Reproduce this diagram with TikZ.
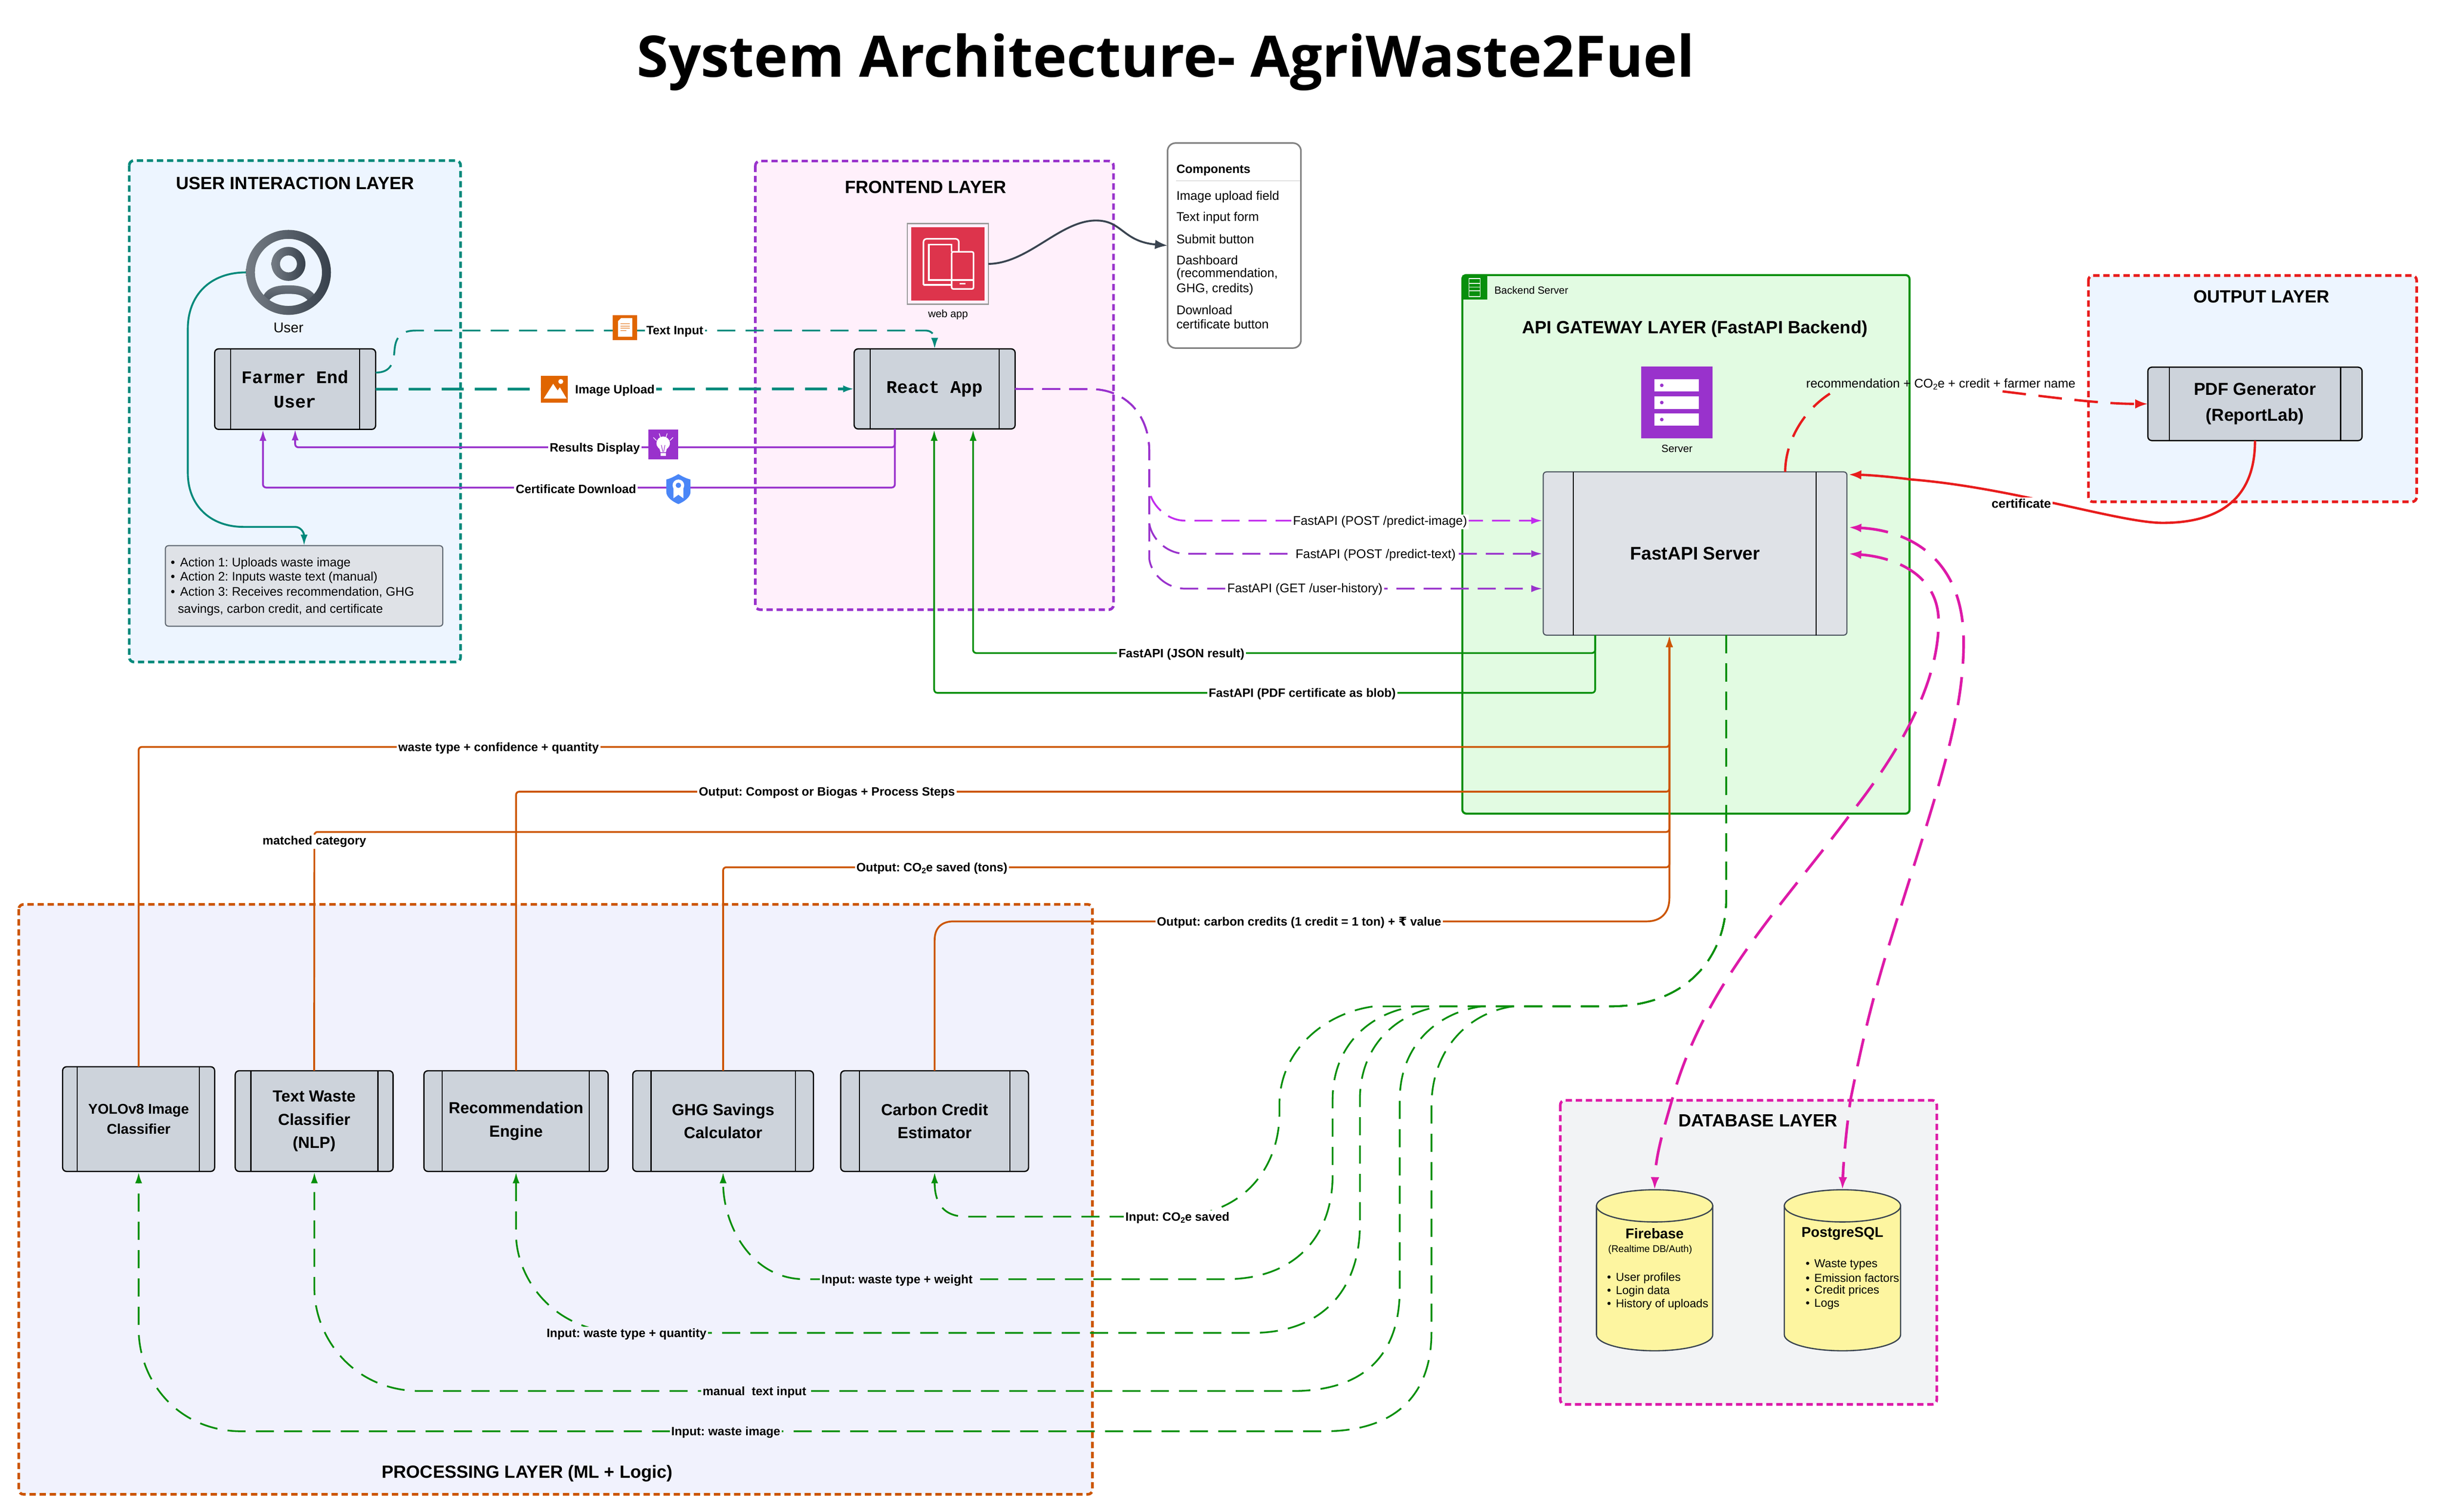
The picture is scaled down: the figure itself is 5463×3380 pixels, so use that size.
\documentclass[tikz,border=0pt]{standalone}
\usepackage{fontspec}
\setmainfont{Liberation Sans}
\setmonofont{Liberation Mono}
\newfontfamily\titlefont{Open Sans}
\newfontfamily\rupeefont{DejaVu Sans}
\usetikzlibrary{arrows.meta}
\AtBeginDocument{\frenchspacing}
\newcommand\myfs[2]{\fontsize{#1}{#2}\selectfont}
\newcommand\subtwo{\raisebox{-0.3ex}{\scalebox{.65}{2}}}
\definecolor{cteal}{HTML}{00897B}
\definecolor{cpurple}{HTML}{9932CC}
\definecolor{cbright}{HTML}{C22CEE}
\definecolor{corange}{HTML}{CC5500}
\definecolor{cgreen}{HTML}{088F0C}
\definecolor{cmag}{HTML}{DD1AA8}
\definecolor{cred}{HTML}{E81C1C}
\definecolor{cdark}{HTML}{3A4450}
\definecolor{fuser}{HTML}{EDF5FF}
\definecolor{ffront}{HTML}{FFF0FB}
\definecolor{fproc}{HTML}{F1F2FD}
\definecolor{fdb}{HTML}{F2F3F5}
\definecolor{fapi}{HTML}{E2FBE2}
\definecolor{fbox}{HTML}{CDD3DB}
\definecolor{fbox2}{HTML}{DFE2E7}
\definecolor{fcyl}{HTML}{FDF5A0}
\definecolor{cicon}{HTML}{E06500}
\definecolor{cweb}{HTML}{DD344C}
\definecolor{cshield}{HTML}{4A86F7}
\tikzset{
 layer/.style={draw=#1,line width=1.7pt,dash pattern=on 4pt off 2.4pt,rounded corners=3pt},
 layertitle/.style={font=\bfseries\myfs{11.25}{13},inner sep=0pt},
 sidebx/.style={draw=black,line width=.8pt,fill=fbox,rounded corners=2.5pt,inner sep=0pt,outer sep=0pt,align=center},
 sidelight/.style={draw=cdark!90,line width=.7pt,fill=fbox2,rounded corners=2pt,inner sep=0pt,outer sep=0pt,align=center},
 monotext/.style={font=\ttfamily\bfseries\myfs{11.3}{15.7}},
 bold108/.style={font=\bfseries\myfs{10.2}{14.8}},
 lbl/.style={font=\bfseries\myfs{7.7}{9},inner sep=1pt,fill=white,yshift=-.8pt},
 lblr/.style={font=\myfs{8}{10},inner sep=1pt,fill=white,yshift=-.8pt},
 small/.style={font=\myfs{6.7}{8},inner sep=0pt},
 txtl/.style={font=\myfs{8}{10},inner sep=0pt,anchor=west,yshift=-.6pt},
 dbtxt/.style={font=\myfs{7.35}{9},inner sep=0pt,anchor=west,yshift=-.6pt},
 tips/.style={-{Latex[length=7pt,width=4.5pt]}},
 conteal/.style={draw=cteal,line width=1.15pt,tips},
 conpurple/.style={draw=cpurple,line width=1.15pt,tips},
 congreen/.style={draw=cgreen,line width=1.1pt,tips},
 conorange/.style={draw=corange,line width=1.15pt,tips,rounded corners=2pt},
 dashg/.style={dash pattern=on 11.5pt off 6.5pt},
 dashm/.style={dash pattern=on 18pt off 8.5pt},
 dashp/.style={dash pattern=on 11.5pt off 5.7pt},
 cyl/.style={draw=cdark,line width=.8pt,fill=fcyl},
 conmag/.style={draw=cmag,line width=1.7pt,dashm,{Latex[length=8pt,width=5.5pt]}-{Latex[length=8pt,width=5.5pt]}},
}
% style, name, x1,y1,x2,y2, inner1, inner2 ... text
\newcommand\sidebox[9]{%
 \node[#1,minimum width={(#5-#3)*0.01cm},minimum height={(#6-#4)*0.01cm}] (#2) at ({(#3+#5)/2},{(#4+#6)/2}) {#9};
 \draw[line width=.7pt] (#7,#4) -- (#7,#6) (#8,#4) -- (#8,#6);
}
\begin{document}
\begin{tikzpicture}[x=0.01cm,y=-0.01cm]
\useasboundingbox (0,0) rectangle (5463,3380);
\fill[white] (0,0) rectangle (5463,3380);
\node[font=\titlefont\bfseries\myfs{36.4}{42},inner sep=0pt,anchor=base] (title) at (2607,172) {System Architecture- AgriWaste2Fuel};

% --- layers
\draw[layer=cteal,fill=fuser] (289,359) rectangle (1030,1480);
\draw[layer=cpurple,fill=ffront] (1689,360) rectangle (2490,1363);
\draw[draw=cgreen,line width=1.3pt,fill=fapi,rounded corners=2.5pt] (3270,615) rectangle (4270,1819);
\draw[layer=cred,fill=fuser] (4670,616) rectangle (5404,1122);
\draw[layer=corange,fill=fproc] (42,2022) rectangle (2443,3341);
\draw[layer=cmag,fill=fdb] (3489,2460) rectangle (4331,3140);

\node[layertitle] (t1) at (660,410) {USER INTERACTION LAYER};
\node[layertitle] (t2) at (2070,419) {FRONTEND LAYER};
\node[layertitle] (t3) at (3790,735) {API GATEWAY LAYER (FastAPI Backend)};
\node[layertitle] (t4) at (5057,663) {OUTPUT LAYER};
\node[layertitle] (t5) at (1179,3294) {PROCESSING LAYER (ML + Logic)};
\node[layertitle] (t6) at (3931,2505) {DATABASE LAYER};

% --- user icon
\node[circle,minimum size=1.9cm,inner sep=0pt,outer sep=0pt] (usericon) at (645,609) {};
\begin{scope}
\clip (645,609) circle [radius=90];
\shade[top color=cdark!75!white,bottom color=cdark] (587,665) .. controls (595,645) and (615,638) .. (640,638) -- (650,638) .. controls (680,638) and (700,650) .. (707,665) -- (690,695) -- (600,695) -- cycle;
\fill[fuser] (600,674) .. controls (610,660) and (625,657) .. (645,657) .. controls (665,657) and (680,660) .. (690,674) .. controls (675,684) and (660,688) .. (645,688) .. controls (630,688) and (615,684) .. (600,674) -- cycle;
\end{scope}
\shade[even odd rule,left color=cdark!70!white,right color=cdark!95!black] (645,609) circle [radius=95] (645,609) circle [radius=75];
\shade[even odd rule,left color=cdark!70!white,right color=cdark!95!black] (645,590) circle [radius=38] (645,590) circle [radius=19];
\node[font=\myfs{9}{11},inner sep=0pt] (userlbl) at (645,733) {User};

% --- boxes
\sidebox{sidebx,monotext}{farmer}{480}{780}{840}{960}{516}{804}{Farmer End\\User}
\sidebox{sidebx,monotext}{react}{1910}{780}{2270}{959}{1946}{2234}{React App}
\sidebox{sidelight,font=\bfseries\myfs{11.6}{14}}{fastapi}{3451}{1055}{4130}{1420}{3518}{4061}{FastAPI Server}
\sidebox{sidebx,font=\bfseries\myfs{11}{16.5}}{pdfgen}{4803}{821}{5282}{985}{4851}{5234}{PDF Generator\\(ReportLab)}
\sidebox{sidebx,font=\bfseries\myfs{9}{12.5}}{yolo}{140}{2385}{480}{2619}{173}{446}{YOLOv8 Image\\Classifier}
\sidebox{sidebx,bold108}{textw}{526}{2394}{879}{2619}{561}{845}{Text Waste\\Classifier\\(NLP)}
\sidebox{sidebx,bold108}{recom}{948}{2394}{1360}{2619}{989}{1318}{Recommendation\\Engine}
\sidebox{sidebx,bold108}{ghg}{1415}{2394}{1819}{2619}{1456}{1779}{GHG Savings\\Calculator}
\sidebox{sidebx,bold108}{carbon}{1880}{2394}{2300}{2619}{1922}{2258}{Carbon Credit\\Estimator}

% --- action box
\node[draw=cdark!80,line width=.7pt,fill=fbox2,rounded corners=2pt,minimum width=6.2cm,minimum height=1.8cm,inner sep=0pt,outer sep=0pt] (actions) at (680,1310) {};
\node[txtl,font=\myfs{7.9}{10}] (a1) at (381,1257) {•\hspace{3.2pt}Action 1: Uploads waste image};
\node[txtl,font=\myfs{7.9}{10}] (a2) at (381,1289) {•\hspace{3.2pt}Action 2: Inputs waste text (manual)};
\node[txtl,font=\myfs{7.9}{10}] (a3) at (381,1322) {•\hspace{3.2pt}Action 3: Receives recommendation, GHG};
\node[txtl,font=\myfs{7.9}{10}] (a4) at (397,1361) {savings, carbon credit, and certificate};

% --- web app icon
\node[draw=gray!80,line width=.7pt,fill=ffront,minimum width=1.81cm,minimum height=1.8cm,inner sep=0pt,outer sep=0pt] (webapp) at (2119.5,590) {};
\fill[cweb] (2038,508) rectangle (2202,672);
\draw[white,line width=1pt,rounded corners=2pt] (2065,637) -- (2065,534) -- (2144,534) -- (2144,563);
\draw[white,line width=1pt] (2128,626) -- (2077,626) -- (2077,547) -- (2128,547) -- (2128,563);
\draw[white,line width=1pt] (2065,637) -- (2128,637);
\draw[white,line width=1pt,rounded corners=1pt,fill=cweb] (2128,563) rectangle (2177,646);
\draw[white,line width=1pt] (2128,626) -- (2177,626);
\draw[white,line width=1pt] (2146,634) -- (2159,634);
\node[small] (weblbl) at (2120,703) {web app};

% --- components
\node[draw=gray,line width=1pt,fill=white,rounded corners=5pt,minimum width=2.98cm,minimum height=4.58cm,inner sep=0pt,outer sep=0pt] (comps) at (2760,549) {};
\node[txtl,font=\bfseries\myfs{7.7}{10}] (c0) at (2630,379) {Components};
\draw[gray!25,line width=.7pt] (2630,404) -- (2907,404);
\node[txtl] (c1) at (2630,438) {Image upload field};
\node[txtl] (c2) at (2630,485) {Text input form};
\node[txtl] (c3) at (2630,532) {Submit button};
\node[txtl] (c4) at (2630,579) {Dashboard};
\node[txtl] (c5) at (2630,611) {(recommendation,};
\node[txtl] (c6) at (2630,644) {GHG, credits)};
\node[txtl] (c7) at (2630,691) {Download};
\node[txtl] (c8) at (2630,723) {certificate button};
\draw[draw=cdark,line width=1.2pt,-{Latex[length=8pt,width=6pt]}] (webapp.east) .. controls (2300,589) and (2370,493) .. (2451,493) .. controls (2510,493) and (2510,540) .. (comps.west);

% --- server icon
\node[fill=cpurple,minimum width=1.6cm,minimum height=1.6cm,inner sep=0pt,outer sep=0pt] (srv) at (3750,900) {};
\foreach \a/\b in {848/875,886/914,924/952}{
 \fill[white] (3700,\a) rectangle (3799,\b);
 \fill[cpurple] (3716,{(\a+\b)/2}) circle [radius=4];
}
\node[small] (srvlbl) at (3750,1003) {Server};
% backend corner icon
\node[fill=cgreen,minimum width=.56cm,minimum height=.55cm,inner sep=0pt,outer sep=0pt] (bkicon) at (3298,642.5) {};
\draw[white,line width=.5pt] (3285,623) rectangle (3310,663) (3285,634) -- (3310,634) (3285,642) -- (3310,642) (3285,650) -- (3310,650);
\node[small,font=\myfs{6.6}{8},anchor=west] (bklbl) at (3341,649) {Backend Server};

% --- databases
\node[minimum width=2.6cm,minimum height=3.6cm,inner sep=0pt,outer sep=0pt] (fire) at (3700,2840) {};
\node[minimum width=2.6cm,minimum height=3.6cm,inner sep=0pt,outer sep=0pt] (pg) at (4120,2840) {};
\foreach \c in {3700,4120}{
 \path[cyl] ({\c-130},2696) -- ({\c-130},2984) .. controls ({\c-130},3004) and ({\c-72},3020) .. (\c,3020) .. controls ({\c+72},3020) and ({\c+130},3004) .. ({\c+130},2984) -- ({\c+130},2696) -- cycle;
 \path[cyl] (\c,2696) ellipse [x radius=130,y radius=36];
}
\node[font=\bfseries\myfs{9}{11},inner sep=0pt] (f0) at (3700,2758) {Firebase};
\node[font=\myfs{6.2}{8},inner sep=0pt] (f1) at (3690,2794) {(Realtime DB/Auth)};
\node[dbtxt] (f2) at (3593,2855) {•\hspace{3pt}User profiles};
\node[dbtxt] (f3) at (3593,2885) {•\hspace{3pt}Login data};
\node[dbtxt] (f4) at (3593,2914) {•\hspace{3pt}History of uploads};
\node[font=\bfseries\myfs{9}{11},inner sep=0pt] (p0) at (4120,2758) {PostgreSQL};
\node[dbtxt] (p1) at (4037,2825) {•\hspace{3pt}Waste types};
\node[dbtxt] (p2) at (4037,2855) {•\hspace{3pt}Emission factors};
\node[dbtxt] (p3) at (4037,2884) {•\hspace{3pt}Credit prices};
\node[dbtxt] (p4) at (4037,2914) {•\hspace{3pt}Logs};

% --- user connectors
\draw[conteal,line width=1.2pt] (usericon.west) .. controls (470,609) and (420,660) .. (420,735) -- (420,1057) .. controls (420,1130) and (470,1178) .. (545,1178) -- (660,1178) .. controls (672,1178) and (680,1190) .. (actions.north);
\draw[conteal,dashg] (840,833) .. controls (875,833) and (880,810) .. (882,785) .. controls (884,755) and (895,739) .. (930,739) -- (2070,739) .. controls (2082,739) and (2090,748) .. (react.north);
\draw[conteal,line width=1.7pt,dash pattern=on 14pt off 7pt] (840,870) -- (react.west);
\draw[conpurple,rounded corners=2pt] (2001,959) -- (2001,1000) -- (660,1000) -- (farmer.south);
\draw[conpurple,rounded corners=2pt] (2001,959) -- (2001,1090) -- (588,1090) -- (588,961);

% --- frontend -> api
\draw[draw=cbright,line width=1.15pt,dashp,tips] (react.east) -- (2440,870) .. controls (2510,870) and (2570,920) .. (2570,1010) -- (2570,1096) .. controls (2575,1130) and (2610,1164) .. (2650,1164) -- (3449,1164);
\draw[conpurple,dashp] (react.east) -- (2440,870) .. controls (2510,870) and (2570,920) .. (2570,1010) -- (2570,1170) .. controls (2575,1205) and (2610,1238) .. (2650,1238) -- (3449,1238);
\draw[conpurple,dashp] (react.east) -- (2440,870) .. controls (2510,870) and (2570,920) .. (2570,1010) -- (2570,1250) .. controls (2575,1285) and (2610,1316) .. (2650,1316) -- (3449,1316);

% --- api -> frontend
\draw[congreen,rounded corners=2pt] (3567,1420) -- (3567,1460) -- (2176,1460) -- (2176,961);
\draw[congreen,rounded corners=2pt] (3567,1420) -- (3567,1549) -- (2089,1549) -- (2089,961);

% --- outputs to api
\draw[conorange] (yolo.north) -- (310,1670) -- (3733,1670) -- (3733,1422);
\draw[conorange] (recom.north) -- (1154,1770) -- (3733,1770) -- (3733,1422);
\draw[conorange] (textw.north) -- (703,1860) -- (3733,1860) -- (3733,1422);
\draw[conorange] (ghg.north) -- (1617,1939) -- (3733,1939) -- (3733,1422);
\draw[conorange,rounded corners=0pt] (carbon.north) -- (2090,2102) .. controls (2090,2075) and (2105,2060) .. (2132,2060) -- (3682,2060) .. controls (3715,2060) and (3733,2040) .. (3733,2008) -- (3733,1422);

% --- inputs from api
\draw[congreen,dashg] (3860,1420) -- (3860,2012) .. controls (3860,2130) and (3780,2250) .. (3600,2250) -- (3072,2250) .. controls (2960,2265) and (2861,2350) .. (2861,2470) -- (2861,2490) .. controls (2861,2600) and (2790,2720) .. (2620,2720) -- (2160,2720) .. controls (2110,2720) and (2090,2690) .. (2090,2621);
\draw[congreen,dashg] (3860,1420) -- (3860,2012) .. controls (3860,2130) and (3780,2250) .. (3600,2250) -- (3163,2250) .. controls (3060,2265) and (2980,2340) .. (2980,2458) -- (2980,2627) .. controls (2980,2760) and (2900,2860) .. (2740,2860) -- (1800,2860) .. controls (1680,2860) and (1617,2740) .. (1617,2621);
\draw[congreen,dashg] (3860,1420) -- (3860,2012) .. controls (3860,2130) and (3780,2250) .. (3600,2250) -- (3221,2250) .. controls (3120,2265) and (3041,2340) .. (3041,2458) -- (3041,2737) .. controls (3041,2880) and (2960,2980) .. (2800,2980) -- (1400,2980) .. controls (1230,2980) and (1154,2850) .. (1154,2760) -- (1154,2621);
\draw[congreen,dashg] (3860,1420) -- (3860,2012) .. controls (3860,2130) and (3780,2250) .. (3600,2250) -- (3313,2250) .. controls (3210,2265) and (3130,2340) .. (3130,2460) -- (3130,2883) .. controls (3130,3020) and (3060,3110) .. (2890,3110) -- (940,3110) .. controls (790,3110) and (703,2990) .. (703,2880) -- (703,2621);
\draw[congreen,dashg] (3860,1420) -- (3860,2012) .. controls (3860,2130) and (3780,2250) .. (3600,2250) -- (3383,2250) .. controls (3280,2265) and (3201,2350) .. (3201,2473) -- (3201,2979) .. controls (3201,3110) and (3130,3200) .. (2960,3200) -- (540,3200) .. controls (400,3200) and (310,3090) .. (310,2970) -- (310,2621);

% --- output connectors
\draw[draw=cred,line width=1.5pt,dash pattern=on 15pt off 8pt,-{Latex[length=8pt,width=6pt]}] (3992,1055) .. controls (3992,990) and (4030,920) .. (4092,880) (4478,875) .. controls (4600,890) and (4700,903) .. (pdfgen.west);
\draw[draw=cred,line width=1.5pt,-{Latex[length=8pt,width=6pt]}] (pdfgen.south) .. controls (5043,1100) and (4980,1169) .. (4836,1169) .. controls (4740,1169) and (4500,1090) .. (4274,1072) .. controls (4220,1065) and (4180,1062) .. (4134,1061);
% --- database connectors
\draw[conmag] (4134,1238) .. controls (4230,1245) and (4335,1280) .. (4335,1390) .. controls (4335,1500) and (4280,1640) .. (4138,1820) .. controls (3990,2020) and (3810,2200) .. (3739,2459) .. controls (3715,2540) and (3702,2590) .. (fire.north);
\draw[conmag] (4134,1179) .. controls (4260,1185) and (4391,1240) .. (4391,1435) .. controls (4391,1620) and (4320,1800) .. (4214,2146) .. controls (4180,2260) and (4160,2350) .. (4138,2459) .. controls (4128,2530) and (4122,2600) .. (pg.north);

% --- labels
\node[lbl] (l1) at (1509,739) {Text Input};
\node[fill=cicon,minimum width=.55cm,minimum height=.55cm,inner sep=0pt] (ictext) at (1397.5,732.5) {};
\fill[white] (1389,711) -- (1414,711) -- (1414,753) -- (1382,753) -- (1382,718) -- cycle;
\draw[cicon,line width=.4pt] (1388,724) -- (1408,724) (1388,729) -- (1408,729) (1388,734) -- (1408,734) (1388,739) -- (1401,739);
\node[lbl] (l2) at (1375,870) {Image Upload};
\node[fill=cicon,minimum width=.6cm,minimum height=.6cm,inner sep=0pt] (icimg) at (1240,870) {};
\fill[white] (1216,891) -- (1237,858) -- (1247,873) -- (1252,866) -- (1267,891) -- cycle;
\fill[white] (1254,853) circle [radius=5.5];
\node[lbl] (l3) at (1330,1000) {Results Display};
\node[fill=cpurple,minimum width=.67cm,minimum height=.67cm,inner sep=0pt] (icbulb) at (1483.5,993.5) {};
\fill[white] (1483,991) circle [radius=15];
\fill[white] (1473,997) -- (1493,997) -- (1489,1011) -- (1477,1011) -- cycle;
\fill[white] (1477,1013) rectangle (1489,1019);
\draw[cpurple,line width=.35pt] (1479,995) -- (1482,1010) (1487,995) -- (1484,1010);
\draw[white,line width=.4pt] (1461,978) -- (1468,985) (1474,969) -- (1477,978) (1492,969) -- (1489,978) (1505,978) -- (1498,985);
\node[lbl] (l4) at (1288,1090) {Certificate Download};
\node[minimum width=.55cm,minimum height=.66cm,inner sep=0pt] (icshield) at (1517,1093) {};
\fill[cshield] (1517,1060) .. controls (1505,1067) and (1498,1070) .. (1490,1072) -- (1490,1100) .. controls (1490,1112) and (1505,1122) .. (1517,1127) .. controls (1529,1122) and (1544,1112) .. (1544,1100) -- (1544,1072) .. controls (1536,1070) and (1529,1067) .. (1517,1060) -- cycle;
\fill[white] (1506,1090) -- (1506,1114) -- (1517,1106) -- (1528,1114) -- (1528,1090) -- cycle;
\fill[white] (1517,1085) circle [radius=13];
\fill[cshield] (1517,1085) circle [radius=6];

\node[lblr] (l5) at (3086,1164) {FastAPI (POST /predict-image)};
\node[lblr] (l6) at (3076,1238) {FastAPI (POST /predict-text)};
\node[lblr] (l7) at (2918,1315) {FastAPI (GET /user-history)};
\node[lbl] (l8) at (2642,1460) {FastAPI (JSON result)};
\node[lbl] (l9) at (2912,1549) {FastAPI (PDF certificate as blob)};
\node[font=\myfs{8}{10},inner sep=0pt] (l10) at (4340,859) {recommendation + CO\subtwo e + credit + farmer name};
\node[lbl,font=\myfs{8}{10}\bfseries] (l11) at (4520,1123) {certificate};
\node[lbl] (l12) at (1115,1670) {waste type + confidence + quantity};
\node[lbl] (l13) at (1849,1770) {Output: Compost or Biogas + Process Steps};
\node[lbl] (l14) at (703,1879) {matched category};
\node[lbl] (l15) at (2084,1939) {Output: CO\subtwo e saved (tons)};
\node[lbl] (l16) at (2905,2060) {Output: carbon credits (1 credit = 1 ton) + {\rupeefont ₹} value};
\node[lbl] (l17) at (2633,2720) {Input: CO\subtwo e saved};
\node[lbl,fill=fproc] (l18) at (2006,2860) {Input: waste type + weight};
\node[lbl,fill=fproc] (l19) at (1401,2980) {Input: waste type + quantity};
\node[lbl,fill=fproc] (l20) at (1687,3110) {manual\ \ text input};
\node[lbl,fill=fproc] (l21) at (1623,3200) {Input: waste image};
\end{tikzpicture}
\end{document}
